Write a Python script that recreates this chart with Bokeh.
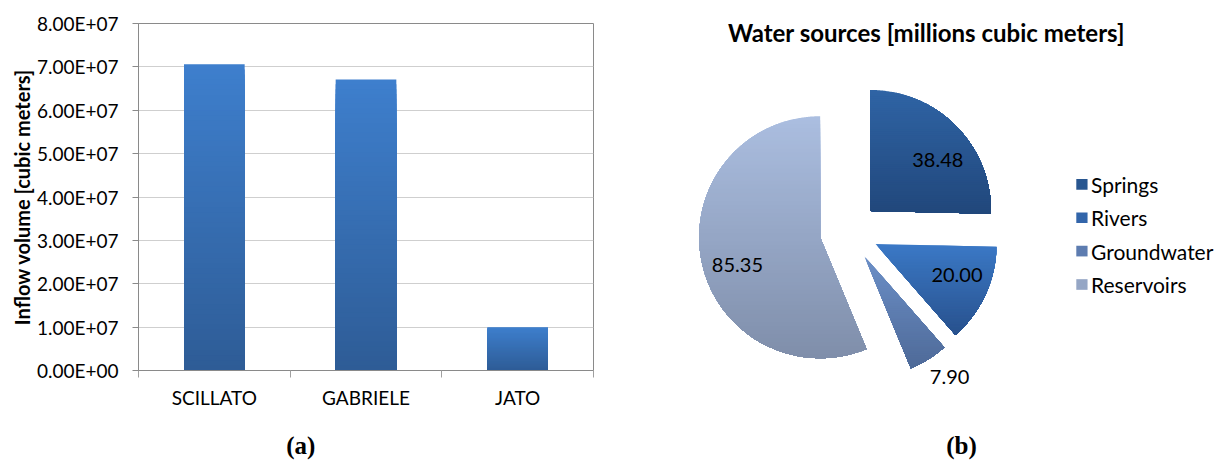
import numpy as np
from bokeh.plotting import figure
from bokeh.layouts import row
from bokeh.models import Range1d, FixedTicker, ColumnDataSource, LinearAxis
from bokeh.core.properties import value
from bokeh.embed import file_html
from bokeh.resources import INLINE

# ---- data -------------------------------------------------------------
reservoir_sites = ["SCILLATO", "GABRIELE", "JATO"]
inflow_volume = [7.06e7, 6.71e7, 1.00e7]          # cubic meters
y_tick_values = [i * 1e7 for i in range(9)]
y_tick_labels = [f"{v:.2E}" for v in y_tick_values]

source_names = ["Springs", "Rivers", "Groundwater", "Reservoirs"]
source_volume = [38.48, 20.00, 7.90, 85.35]        # millions cubic meters
source_labels = [f"{v:.2f}" for v in source_volume]

# ---- styling ----------------------------------------------------------
SANS = "Lato"
SERIF = "Liberation Serif"
BAR_TOP, BAR_BOTTOM = (62, 127, 205), (46, 92, 150)
SLICE_TOP = [(47, 100, 165), (59, 121, 198), (108, 143, 199), (171, 190, 224)]
SLICE_BOTTOM = [(33, 71, 123), (40, 81, 141), (78, 106, 152), (127, 142, 170)]
N_STEPS = 60


def mix(c0, c1, t):
    r, g, b = (int(round(a + (b_ - a) * t)) for a, b_ in zip(c0, c1))
    return f"#{r:02x}{g:02x}{b:02x}"


# ---- (a) inflow bar chart --------------------------------------------
pa = figure(width=640, height=461, output_backend="svg", toolbar_location=None,
            x_range=Range1d(0, len(reservoir_sites)), y_range=Range1d(0, 8e7),
            min_border_left=138, min_border_right=47, min_border_top=23,
            min_border_bottom=91)
pa.frame_align = False
pa.background_fill_color = "white"
pa.border_fill_color = "white"
pa.outline_line_color = "#8a8a8a"
pa.outline_line_width = 1

# each bar is painted as nested slabs from the full height downwards, each a
# shade darker, which gives a light-top / dark-bottom gradient without seams
xs, bots, tops, cols = [], [], [], []
for i, v in enumerate(inflow_volume):
    for k in reversed(range(N_STEPS)):
        xs.append(i + 0.5)
        bots.append(0.0)
        tops.append(v * (k + 1) / N_STEPS)
        cols.append(mix(BAR_BOTTOM, BAR_TOP, (k + 0.5) / N_STEPS))
pa.vbar(x="x", bottom="b", top="t", width=0.4, fill_color="c", line_color=None,
        source=ColumnDataSource(dict(x=xs, b=bots, t=tops, c=cols)))

pa.xgrid.visible = False
pa.ygrid.ticker = FixedTicker(ticks=y_tick_values)
pa.ygrid.grid_line_color = "#cfcfcf"
pa.ygrid.grid_line_width = 1

ya = pa.yaxis[0]
ya.ticker = FixedTicker(ticks=y_tick_values)
ya.major_label_overrides = dict(zip(y_tick_values, y_tick_labels))
ya.axis_label = "Inflow volume [cubic meters]"
ya.axis_label_text_font = SANS
ya.axis_label_text_font_style = "bold"
ya.axis_label_text_font_size = "20px"
ya.axis_label_text_color = "black"
ya.axis_label_standoff = 0
ya.major_label_text_font = SANS
ya.major_label_text_font_size = "19px"
ya.major_label_text_color = "black"
ya.major_label_standoff = 14
ya.major_tick_out = 6
ya.major_tick_in = 0
ya.minor_tick_out = 0
ya.minor_tick_in = 0
ya.axis_line_color = "#8a8a8a"
ya.major_tick_line_color = "#8a8a8a"

xa = pa.xaxis[0]
site_pos = [i + 0.5 for i in range(len(reservoir_sites))]
xa.ticker = FixedTicker(ticks=site_pos,
                        minor_ticks=list(range(len(reservoir_sites) + 1)))
xa.major_label_overrides = dict(zip(site_pos, reservoir_sites))
xa.major_label_text_font = SANS
xa.major_label_text_font_size = "19px"
xa.major_label_text_color = "black"
xa.major_label_standoff = 8
xa.major_tick_out = 0
xa.major_tick_in = 0
xa.minor_tick_out = 7
xa.minor_tick_in = 0
xa.minor_tick_line_color = "#a0a0a0"
xa.axis_line_color = "#8a8a8a"

# panel tag "(a)" as the single label of a bare second bottom axis
TAG_POS = 1.07
tag_axis = LinearAxis(ticker=FixedTicker(ticks=[TAG_POS]),
                      major_label_overrides={TAG_POS: "(a)"},
                      major_label_text_font=SERIF,
                      major_label_text_font_style="bold",
                      major_label_text_font_size="25px",
                      major_label_text_color="black",
                      major_label_standoff=20,
                      axis_line_color=None, major_tick_line_color=None,
                      minor_tick_line_color=None,
                      major_tick_out=0, major_tick_in=0,
                      minor_tick_out=0, minor_tick_in=0)
pa.add_layout(tag_axis, "below")

# ---- (b) water sources pie -------------------------------------------
# unit-circle coordinates; the canvas spans this window of them
pb = figure(width=578, height=461, output_backend="svg", toolbar_location=None,
            x_range=Range1d(-1.7231, 3.0537), y_range=Range1d(-1.9008, 1.9091),
            min_border=0)
pb.frame_align = False
pb.axis.visible = False
pb.grid.visible = False
pb.outline_line_color = None
pb.background_fill_color = "white"
pb.border_fill_color = "white"

EXPLODE = 0.243
LABEL_R = [0.70, 0.72, 1.22, 0.72]
LABEL_NUDGE = np.radians([-7.5, 4.0, 3.3, 7.0])


def clip_below(poly, hi):
    """Clip a polygon (list of (x, y)) to y <= hi."""
    out = []
    n = len(poly)
    for j in range(n):
        p, q = poly[j], poly[(j + 1) % n]
        ip, iq = p[1] <= hi, q[1] <= hi
        if ip:
            out.append(p)
        if ip != iq:
            t = (hi - p[1]) / (q[1] - p[1])
            out.append((p[0] + t * (q[0] - p[0]), hi))
    return out


total = sum(source_volume)
start = np.pi / 2
px, py, pc = [], [], []
lx, ly = [], []
for i, v in enumerate(source_volume):
    span = 2 * np.pi * v / total
    end = start - span                      # clockwise from 12 o'clock
    mid = (start + end) / 2
    ax, ay = EXPLODE * np.cos(mid), EXPLODE * np.sin(mid)
    t = np.linspace(start, end, max(8, int(np.degrees(span) * 2)))
    poly = [(ax, ay)] + [(ax + np.cos(a), ay + np.sin(a)) for a in t]
    ys = [p[1] for p in poly]
    ymin, ymax = min(ys), max(ys)
    # nested pieces from the whole slice downwards, each a shade darker
    for k in reversed(range(N_STEPS)):
        hi = ymin + (ymax - ymin) * (k + 1) / N_STEPS
        piece = clip_below(poly, hi) if k < N_STEPS - 1 else poly
        if len(piece) >= 3:
            px.append([p[0] for p in piece])
            py.append([p[1] for p in piece])
            pc.append(mix(SLICE_BOTTOM[i], SLICE_TOP[i], (k + 0.5) / N_STEPS))
    la = mid + LABEL_NUDGE[i]
    lx.append(ax + LABEL_R[i] * np.cos(la))
    ly.append(ay + LABEL_R[i] * np.sin(la))
    start = end

pb.patches(xs="x", ys="y", fill_color="c", line_color=None,
           source=ColumnDataSource(dict(x=px, y=py, c=pc)))
pb.text(x=lx, y=ly, text=source_labels, text_font=value(SANS),
        text_font_size="20px", text_color="black", text_align="center",
        text_baseline="middle")

# title
pb.text(x=[0.64], y=[1.645], text=["Water sources [millions cubic meters]"],
        text_font=value(SANS), text_font_style="bold", text_font_size="24px",
        text_color="black", text_align="center", text_baseline="middle")

# legend
legend_colors = [mix(SLICE_BOTTOM[i], SLICE_TOP[i], 0.5) for i in range(4)]
leg_y = [0.39 - 0.276 * i for i in range(4)]
pb.rect(x=[1.925] * 4, y=leg_y, width=0.093, height=0.088,
        fill_color=legend_colors, line_color=None)
pb.text(x=[2.0] * 4, y=leg_y, text=source_names, text_font=value(SANS),
        text_font_size="21px", text_color="black", text_align="left",
        text_baseline="middle")

# panel tag
pb.text(x=[0.93], y=[-1.765], text=["(b)"], text_font=value(SERIF),
        text_font_style="bold", text_font_size="25px", text_color="black",
        text_align="center", text_baseline="middle")

layout = row(pa, pb)
open("out.html", "w").write(file_html(layout, INLINE))
